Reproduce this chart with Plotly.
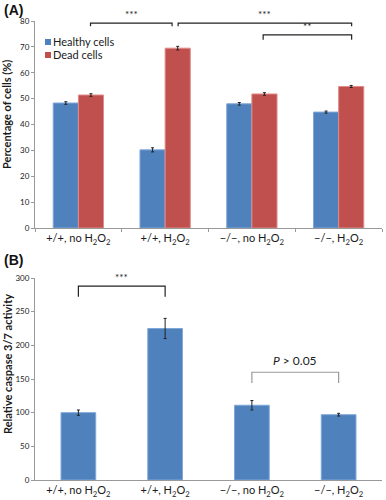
import plotly.graph_objects as go

categories = ["+/+, no H<sub>2</sub>O<sub>2</sub>", "+/+, H<sub>2</sub>O<sub>2</sub>",
              "\u2212/\u2212, no H<sub>2</sub>O<sub>2</sub>", "\u2212/\u2212, H<sub>2</sub>O<sub>2</sub>"]
series_names = ["Healthy cells", "Dead cells"]
healthy = [48.3, 30.2, 48.0, 44.8]
healthy_err = [0.5, 0.8, 0.5, 0.4]
dead = [51.4, 69.5, 51.8, 54.7]
dead_err = [0.5, 0.7, 0.5, 0.4]
caspase = [100, 225, 111, 97]
caspase_err = [4, 15, 7, 2]

# significance brackets: (x0, x1, y_top, y_bottom, label)
brackets_a = [(0.14, 1.08, 79.2, 78.0, "***"), (1.15, 3.15, 79.2, 78.0, "***"),
              (2.13, 3.15, 74.6, 72.8, "**")]
brackets_b = [(0.0, 1.0, 288, 272, "***", "#222"), (2.0, 3.0, 160, 144, "<i>P</i> > 0.05", "#999")]

BLUE = "#4F81BD"
RED = "#C0504D"
FONT = "Lato, Liberation Sans, Arial, sans-serif"
TXT = "#1a1a1a"
W, H = 386, 500
L_M, R_M = 35, 4

fig = go.Figure()
fig.add_trace(go.Bar(x=categories, y=healthy, name=series_names[0], marker_color=BLUE,
                     marker_line=dict(color="#7FA7D8", width=1), showlegend=False,
                     error_y=dict(type="data", array=healthy_err, color="#222", thickness=1, width=1.5),
                     xaxis="x", yaxis="y"))
fig.add_trace(go.Bar(x=categories, y=dead, name=series_names[1], marker_color=RED,
                     marker_line=dict(color="#E08C8A", width=1), showlegend=False,
                     error_y=dict(type="data", array=dead_err, color="#222", thickness=1, width=1.5),
                     xaxis="x", yaxis="y"))
fig.add_trace(go.Bar(x=categories, y=caspase, name="caspase", showlegend=False, marker_color=BLUE,
                     marker_line=dict(color="#7FA7D8", width=1), width=0.4,
                     error_y=dict(type="data", array=caspase_err, color="#222", thickness=1, width=1.5),
                     xaxis="x2", yaxis="y2"))

shapes = []
annotations = []
for x0, x1, yt, yb, lab in brackets_a:
    shapes.append(dict(type="path", xref="x", yref="y",
                       path=f"M {x0} {yb} L {x0} {yt} L {x1} {yt} L {x1} {yb}",
                       line=dict(color="#222", width=1.2)))
    annotations.append(dict(x=(x0 + x1) / 2, y=yt, xref="x", yref="y", text=lab, showarrow=False,
                            yanchor="bottom", yshift=1, font=dict(size=10, color=TXT, family=FONT)))
for x0, x1, yt, yb, lab, col in brackets_b:
    is_p = "P" in lab
    shapes.append(dict(type="path", xref="x2", yref="y2",
                       path=f"M {x0} {yb} L {x0} {yt} L {x1} {yt} L {x1} {yb}",
                       line=dict(color=col, width=1.2)))
    annotations.append(dict(x=(x0 + x1) / 2, y=yt, xref="x2", yref="y2", text=lab, showarrow=False,
                            yanchor="bottom", yshift=2 if is_p else 1,
                            font=dict(size=12 if is_p else 10, color=TXT, family=FONT)))


def px_x(p):
    return (p - L_M) / (W - L_M - R_M)


def px_y(p):
    return 1 - p / H


# panel labels
annotations.append(dict(x=px_x(2), y=px_y(0), xref="paper", yref="paper", text="<b>(A)</b>", showarrow=False,
                        xanchor="left", yanchor="top", font=dict(size=14, color="#111", family="Liberation Sans")))
annotations.append(dict(x=px_x(2), y=px_y(250), xref="paper", yref="paper", text="<b>(B)</b>", showarrow=False,
                        xanchor="left", yanchor="top", font=dict(size=14, color="#111", family="Liberation Sans")))
# axis titles
annotations.append(dict(x=px_x(7), y=px_y(115), xref="paper", yref="paper", text="<b>Percentage of cells (%)</b>",
                        textangle=-90, showarrow=False, xanchor="center", yanchor="middle",
                        font=dict(size=11, color=TXT, family=FONT)))
annotations.append(dict(x=px_x(7), y=px_y(364), xref="paper", yref="paper",
                        text="<b>Relative caspase 3/7 activity</b>", xanchor="center", yanchor="middle",
                        textangle=-90, showarrow=False, font=dict(size=11, color=TXT, family=FONT)))
# legend
for i, (nm, col) in enumerate(zip(series_names, [BLUE, RED])):
    cy = 42 + 13 * i
    shapes.append(dict(type="rect", xref="paper", yref="paper", x0=px_x(45), x1=px_x(51),
                       y0=px_y(cy + 3), y1=px_y(cy - 3), fillcolor=col, line=dict(width=0)))
    annotations.append(dict(x=px_x(52), y=px_y(cy), xref="paper", yref="paper", text=nm, showarrow=False,
                            xanchor="left", yanchor="middle", borderpad=0,
                            font=dict(size=11, color=TXT, family=FONT)))

axis_common = dict(showline=True, linecolor="#999", linewidth=1, ticks="outside", ticklen=3,
                   tickcolor="#999", showgrid=False, zeroline=False, automargin=False)

fig.update_layout(
    width=W, height=H, margin=dict(l=L_M, r=R_M, t=0, b=0, pad=0),
    paper_bgcolor="white", plot_bgcolor="white",
    barmode="group", bargap=0.42, bargroupgap=0, showlegend=False,
    font=dict(family=FONT, color=TXT),
    xaxis=dict(domain=[0, 1], anchor="y", tickson="boundaries", tickfont=dict(size=11, color=TXT),
               **axis_common),
    yaxis=dict(domain=[px_y(228), px_y(21)], anchor="x", range=[0, 80], dtick=10,
               tickfont=dict(size=8), **axis_common),
    xaxis2=dict(domain=[0, 1], anchor="y2", tickson="boundaries", ticks="outside",
                tickfont=dict(size=11, color=TXT), showline=True, linecolor="#999", ticklen=0,
                showgrid=False, zeroline=False, automargin=False),
    yaxis2=dict(domain=[px_y(480), px_y(278)], anchor="x2", range=[0, 300], dtick=50,
                tickfont=dict(size=8), **axis_common),
    shapes=shapes, annotations=annotations,
)

fig.write_html("out.html", config={"displayModeBar": False},
               post_script="document.body.style.margin='0px';")
